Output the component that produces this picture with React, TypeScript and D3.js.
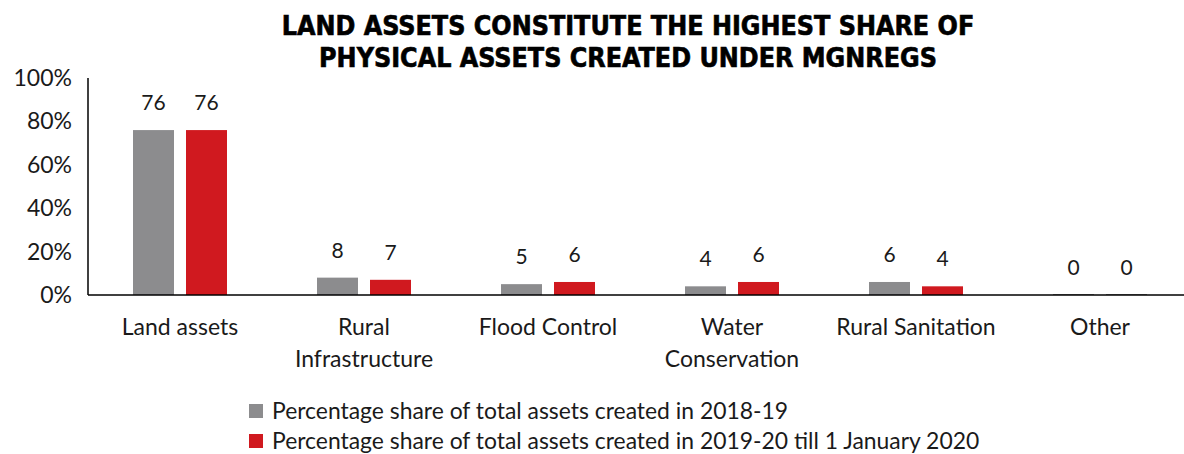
import React from "react";
import * as d3 from "d3";

const categories = [
  ["Land assets"],
  ["Rural", "Infrastructure"],
  ["Flood Control"],
  ["Water", "Conservation"],
  ["Rural Sanitation"],
  ["Other"],
];
const series2018 = [76, 8, 5, 4, 6, 0];
const series2019 = [76, 7, 6, 6, 4, 0];
const seriesNames = [
  "Percentage share of total assets created in 2018-19",
  "Percentage share of total assets created in 2019-20 till 1 January 2020",
];
const colors = ["#8c8c8e", "#d0191f"];
const yTicks = [0, 20, 40, 60, 80, 100];
const titleLines = [
  "LAND ASSETS CONSTITUTE THE HIGHEST SHARE OF",
  "PHYSICAL ASSETS CREATED UNDER MGNREGS",
];

const W = 1184;
const H = 454;
const FONT = "Lato, 'Open Sans', sans-serif";

export default function App() {
  const x0 = d3
    .scaleBand<number>()
    .domain(categories.map((_, i) => i))
    .range([88, 1192])
    .paddingInner(0)
    .paddingOuter(0);
  const x1 = d3
    .scaleBand<number>()
    .domain([0, 1])
    .range([0, x0.bandwidth()])
    .paddingInner(12 / 53)
    .paddingOuter(45 / 53);
  const y = d3.scaleLinear().domain([0, 100]).range([295, 78]);
  const data = [series2018, series2019];

  return (
    <svg width={W} height={H} style={{ position: "absolute", left: 0, top: 0, background: "#fff" }}>
      {titleLines.map((t, i) => (
        <text
          key={i}
          x={628}
          y={35 + i * 32}
          textAnchor="middle"
          fontFamily="'DejaVu Sans', sans-serif"
          fontStretch="condensed"
          fontWeight="900"
          fontSize={26.6}
          fill="#000"
          stroke="#000"
          strokeWidth={0.6}
        >
          {t}
        </text>
      ))}
      {yTicks.map((t) => (
        <text
          key={t}
          x={72}
          y={y(t) + 8}
          textAnchor="end"
          fontFamily={FONT}
          fontSize={23}
          fill="#1a1a1a"
        >
          {t}%
        </text>
      ))}
      {data.map((s, si) =>
        s.map((v, ci) => {
          const bx = (x0(ci) as number) + (x1(si) as number);
          const bw = x1.bandwidth();
          return (
            <g key={`${si}-${ci}`}>
              <rect x={bx} y={y(v)} width={bw} height={Math.max(0, y(0) - y(v))} fill={colors[si]} />
              {v === 0 && <line x1={bx} x2={bx + bw} y1={y(0) - 0.5} y2={y(0) - 0.5} stroke="#888" strokeWidth={1} />}
              <text
                x={bx + bw / 2}
                y={y(v) - 20}
                textAnchor="middle"
                fontFamily={FONT}
                fontSize={21}
                fill="#1a1a1a"
              >
                {v}
              </text>
            </g>
          );
        })
      )}
      <line x1={88} x2={88} y1={78} y2={295} stroke="#000" strokeWidth={1.5} />
      <line x1={88} x2={W} y1={295} y2={295} stroke="#000" strokeWidth={1.5} />
      {categories.map((lines, ci) =>
        lines.map((l, li) => (
          <text
            key={`${ci}-${li}`}
            x={(x0(ci) as number) + x0.bandwidth() / 2}
            y={335 + li * 32}
            textAnchor="middle"
            fontFamily={FONT}
            fontSize={23}
            fill="#1a1a1a"
          >
            {l}
          </text>
        ))
      )}
      {seriesNames.map((n, i) => (
        <g key={i}>
          <rect x={249} y={404 + i * 30} width={14} height={14} fill={colors[i]} />
          <text x={272} y={419 + i * 30} fontFamily={FONT} fontSize={22.9} fill="#1a1a1a">
            {n}
          </text>
        </g>
      ))}
    </svg>
  );
}
